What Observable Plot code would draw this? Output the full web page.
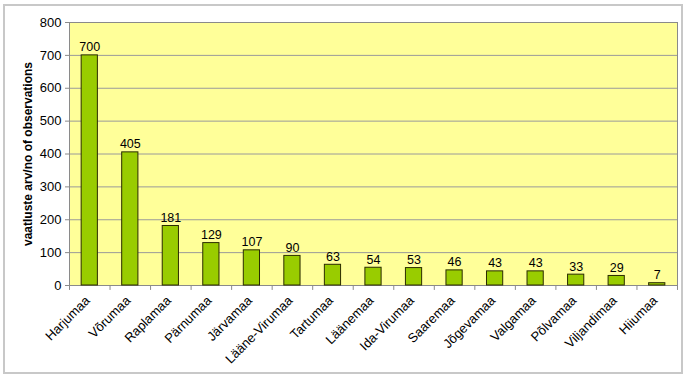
<!DOCTYPE html>
<html><head><meta charset="utf-8">
<script src="https://cdn.jsdelivr.net/npm/d3@7"></script>
<script src="https://cdn.jsdelivr.net/npm/@observablehq/plot@0.6"></script>
<style>
body{margin:0;background:#fff;}
#wrap{position:relative;width:689px;height:380px;}
#border{position:absolute;left:3px;top:4px;width:680px;height:370px;border:2px solid #c8c8c8;pointer-events:none;box-sizing:border-box;}
</style></head><body><div id="wrap"><div id="border"></div></div>
<script>
const counties = ["Harjumaa","Võrumaa","Raplamaa","Pärnumaa","Järvamaa","Lääne-Virumaa","Tartumaa","Läänemaa","Ida-Virumaa","Saaremaa","Jõgevamaa","Valgamaa","Põlvamaa","Viljandimaa","Hiiumaa"];
const counts = [700,405,181,129,107,90,63,54,53,46,43,43,33,29,7];
const yTicks = [0,100,200,300,400,500,600,700,800];
const yLabel = "vaatluste arv/no of observations";
const data = counties.map((c,i)=>({county:c, n:counts[i]}));

const W = 689, H = 380, mL = 69, mR = 12, mT = 22, mB = 95;
const step = (W - mL - mR) / counties.length;

const chart = Plot.plot({
  width: W, height: H,
  marginLeft: mL, marginRight: mR, marginTop: mT, marginBottom: mB,
  style: {fontFamily: "'Liberation Sans', Arial, sans-serif", fontSize: "12px", color: "#000", background: "transparent", overflow: "visible"},
  x: {domain: counties, paddingInner: 0.6, paddingOuter: 0.3, round: false, axis: null},
  y: {domain: [0, 800], axis: null},
  marks: [
    Plot.frame({fill: "#FFFF99", stroke: "none"}),
    Plot.gridY(yTicks, {stroke: "#9a9a9a", strokeOpacity: 1}),
    Plot.frame({stroke: "#8a8a8a", fill: "none"}),
    Plot.axisY({ticks: yTicks, tickSize: 4, tickPadding: 4, label: null, fontSize: 13, stroke: "#8a8a8a"}),
    Plot.ruleX(counties, {x: d => d, dx: -step/2, y1: 0, y2: -15, stroke: "#8a8a8a"}),
    Plot.ruleX(counties.slice(-1), {x: d => d, dx: step/2, y1: 0, y2: -15, stroke: "#8a8a8a"}),
    Plot.barY(data, {x: "county", y: "n", fill: "#99CC00", stroke: "#2b2b00", strokeWidth: 1}),
    Plot.text(data, {x: "county", y: "n", text: d => String(d.n), dy: -4, lineAnchor: "bottom", fontSize: 12.5, fill: "#000"}),
    Plot.text(counties, {x: d => d, y: 0, dy: 13, dx: -2, rotate: -45, textAnchor: "end", lineAnchor: "middle", fontSize: 13, fill: "#000"}),
    Plot.text([yLabel], {frameAnchor: "left", dx: -41, rotate: -90, textAnchor: "middle", lineAnchor: "middle", fontWeight: "bold", fontSize: 12, fill: "#000"})
  ]
});
document.getElementById("wrap").prepend(chart);
</script>
</body></html>
